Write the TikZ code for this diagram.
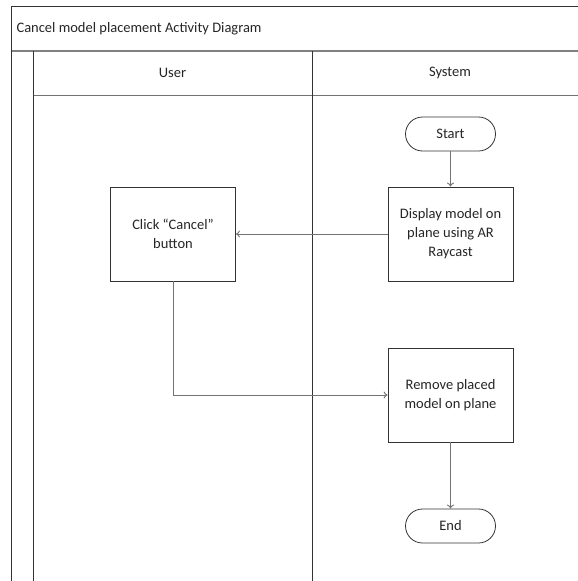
\documentclass[tikz,border=0pt]{standalone}
\usepackage{fontspec}
\setmainfont{Carlito}
\usetikzlibrary{arrows.meta}
\begin{document}
\begin{tikzpicture}[x=1pt,y=-1pt,
  lane/.style={draw=black!80,line width=0.9pt},
  act/.style={draw=black!80,line width=0.8pt,minimum width=125pt,minimum height=94pt,align=center,font=\fontsize{14.5}{19}\selectfont,text=black!85},
  term/.style={draw=black!80,line width=0.8pt,rounded corners=17pt,minimum width=90pt,minimum height=34pt,font=\fontsize{14.5}{19}\selectfont,text=black!85},
  flow/.style={draw=black!55,line width=0.9pt,-{To[length=4pt,width=7pt]}},
  lbl/.style={font=\fontsize{14.5}{19}\selectfont,text=black!85}]
\useasboundingbox (0,0) rectangle (578,581);
\fill[white] (0,0) rectangle (578,581);
% frame
\draw[lane] (578,6.5) -- (11.5,6.5) -- (11.5,581);
\draw[draw=black!50,line width=1.3pt] (11.5,51) -- (578,51);
\draw[draw=black!55,line width=0.9pt] (33.5,95) -- (578,95);
\draw[lane] (33.5,51) -- (33.5,581);
\draw[lane] (312,51) -- (312,581);
\node[lbl,anchor=west] (title) at (13,28.5) {Cancel model placement Activity Diagram};
\node[lbl] (user) at (172.5,73) {User};
\node[lbl] (sys) at (450,73) {System};
% nodes
\node[term] (start) at (450.5,134) {Start};
\node[act] (disp) at (450.5,234) {Display model on\\plane using AR\\Raycast};
\node[act] (click) at (173,234) {Click “Cancel”\\button};
\node[act] (rem) at (450.5,395) {Remove placed\\model on plane};
\node[term] (end) at (450.5,526) {End};
% flows
\draw[flow] (start) -- (disp);
\draw[flow] (disp) -- (click);
\draw[flow] (click.south) |- (rem.west);
\draw[flow] (rem) -- (end);
\end{tikzpicture}
\end{document}
